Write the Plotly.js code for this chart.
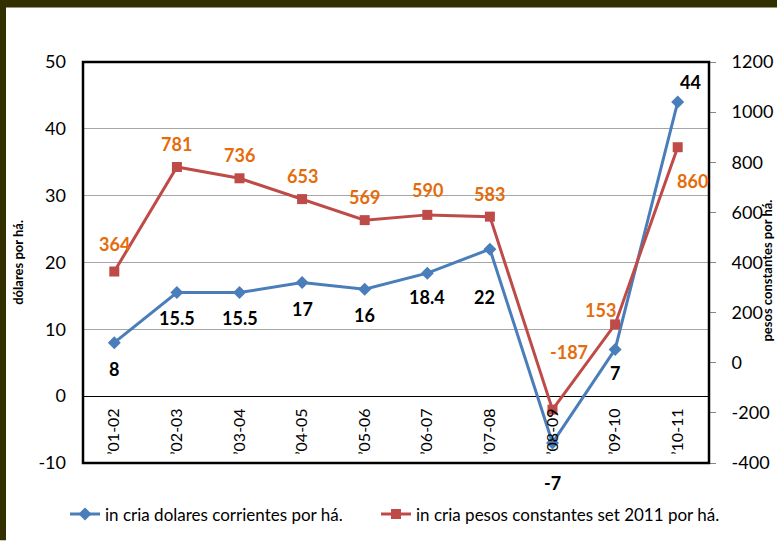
<!DOCTYPE html>
<html>
<head>
<meta charset="utf-8">
<script src="https://cdn.plot.ly/plotly-3.0.1.min.js"></script>
<style>
html,body{margin:0;padding:0;background:#fff;}
#chart{width:777px;height:544px;}
</style>
</head>
<body>
<div id="chart"></div>
<script>
const categories = ["\u201901-02","\u201902-03","\u201903-04","\u201904-05","\u201905-06","\u201906-07","\u201907-08","\u201908-09","\u201909-10","\u201910-11"];
const dolares = [8, 15.5, 15.5, 17, 16, 18.4, 22, -7, 7, 44];
const pesos = [364, 781, 736, 653, 569, 590, 583, -187, 153, 860];
const dolaresLabels = ["8","15.5","15.5","17","16","18.4","22","-7","7","44"];
const pesosLabels = ["364","781","736","653","569","590","583","-187","153","860"];
const leftTicks = [-10, 0, 10, 20, 30, 40, 50];
const leftTickText = ["-10","0","10","20","30","40","50"];
const rightTicks = [-400, -200, 0, 200, 400, 600, 800, 1000, 1200];
const rightTickText = ["-400","-200","0","200","400","600","800","1000","1200"];

// label offsets (style only)
const blueOff = [[0,-26],[0,-25],[0,-25],[0,-26],[0,-26],[0,-24],[-5,-48],[0,-40],[0,-24],[13,20]];
const redOff = [[0,28],[0,23],[0,23],[0,23],[0,23],[0,25],[0,23],[16,58],[-15,14],[15,-34]];

const FONT = "Lato, 'Open Sans', sans-serif";

const traces = [
  {x: categories, y: dolares, type: 'scatter', mode: 'lines+markers',
   name: 'in cria dolares corrientes por h\u00e1.', yaxis: 'y', legend: 'legend',
   line: {color: '#4A7EBB', width: 3}, marker: {symbol: 'diamond', size: 10, color: '#4A7EBB'}},
  {x: categories, y: pesos, type: 'scatter', mode: 'lines+markers',
   name: 'in cria pesos constantes set 2011 por h\u00e1.', yaxis: 'y2', legend: 'legend2',
   line: {color: '#BE4B48', width: 3}, marker: {symbol: 'square', size: 10, color: '#BE4B48'}}
];

const annotations = [];
categories.forEach((c, i) => {
  annotations.push({x: c, y: dolares[i], xref: 'x', yref: 'y', text: dolaresLabels[i],
    showarrow: false, xshift: blueOff[i][0], yshift: blueOff[i][1],
    font: {family: FONT, size: 18, color: '#000000', weight: 'bold'}});
  annotations.push({x: c, y: pesos[i], xref: 'x', yref: 'y2', text: pesosLabels[i],
    showarrow: false, xshift: redOff[i][0], yshift: redOff[i][1],
    font: {family: FONT, size: 18, color: '#E46C0A', weight: 'bold'}});
});
annotations.push({x: -0.105, y: 0.5, xref: 'paper', yref: 'paper', text: 'd\u00f3lares por h\u00e1.',
  textangle: -90, xanchor: 'center', showarrow: false, font: {family: FONT, size: 13, color: '#000', weight: 'bold'}});
annotations.push({x: (767 - 83) / 626, y: 0.48, xref: 'paper', yref: 'paper', text: 'pesos constantes por h\u00e1.',
  textangle: -90, xanchor: 'center', showarrow: false, font: {family: FONT, size: 13, color: '#000', weight: 'bold'}});

const legendBase = {orientation: 'h', xanchor: 'left', y: -0.128, yanchor: 'middle',
  font: {family: FONT, size: 17, color: '#000'}, itemwidth: 30, bgcolor: 'rgba(0,0,0,0)'};

const layout = {
  width: 777, height: 544,
  margin: {l: 83, r: 68, t: 62, b: 77},
  paper_bgcolor: '#ffffff', plot_bgcolor: '#ffffff',
  font: {family: FONT, color: '#000'},
  showlegend: true,
  legend: Object.assign({}, legendBase, {x: (65 - 83) / 626}),
  legend2: Object.assign({}, legendBase, {x: (376 - 83) / 626}),
  xaxis: {type: 'category', range: [-0.5, 9.5], anchor: 'free', position: 1/6,
    showline: false, showgrid: false, zeroline: false, ticks: '', tickangle: -90,
    ticklabelstandoff: 8, tickfont: {family: FONT, size: 16, color: '#000'}, fixedrange: true},
  yaxis: {range: [-10, 50], tickvals: leftTicks, ticktext: leftTickText, showgrid: true,
    gridcolor: '#A6A6A6', gridwidth: 1,
    zeroline: true, zerolinecolor: '#000', zerolinewidth: 1, showline: false, ticks: '',
    ticklabelstandoff: 16, tickfont: {family: FONT, size: 18, color: '#000'}},
  yaxis2: {range: [-400, 1200], tickvals: rightTicks, ticktext: rightTickText, overlaying: 'y', side: 'right',
    showgrid: false, zeroline: false, showline: false, ticks: 'outside', ticklen: 6,
    tickcolor: '#888', tickwidth: 1, ticklabelstandoff: 12,
    tickfont: {family: FONT, size: 18, color: '#000'}},
  shapes: [
    {type: 'rect', xref: 'paper', yref: 'paper', x0: 0, x1: 1, y0: 0, y1: 1,
     line: {color: '#000', width: 2.5}, layer: 'above'},
    {type: 'rect', xref: 'paper', yref: 'paper', x0: -0.14, x1: 1.12, y0: 1 + 55/405, y1: 1 + 63/405,
     line: {width: 0}, fillcolor: '#333000', layer: 'above'},
    {type: 'rect', xref: 'paper', yref: 'paper', x0: -83/626, x1: -77/626, y0: -78/405, y1: 1 + 63/405,
     line: {width: 0}, fillcolor: '#333000', layer: 'above'}
  ],
  annotations: annotations
};

Plotly.newPlot('chart', traces, layout, {displayModeBar: false, staticPlot: true});
</script>
</body>
</html>
